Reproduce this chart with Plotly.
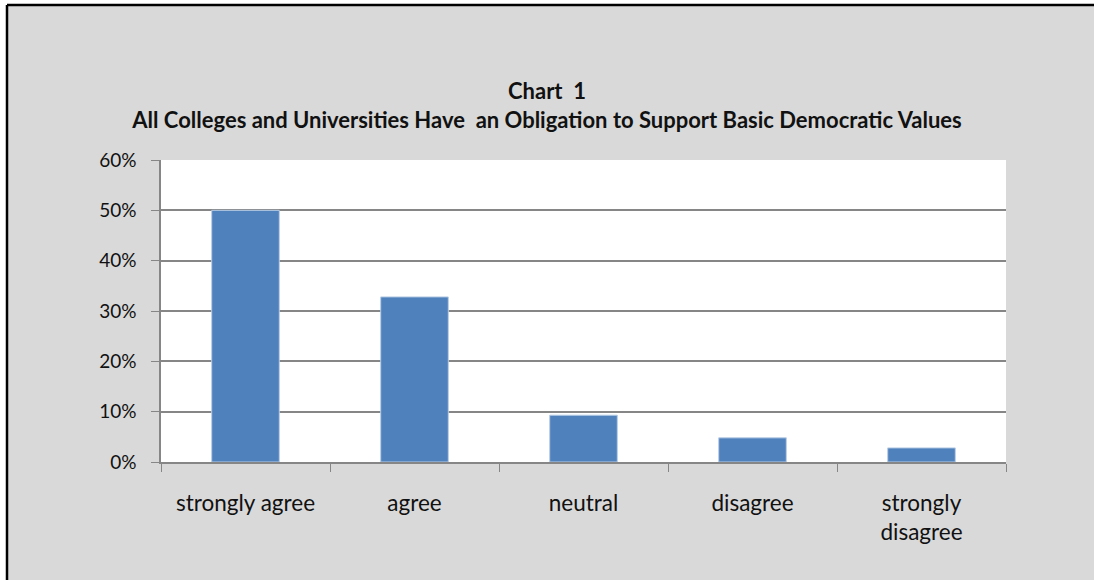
import plotly.graph_objects as go

categories = ["strongly agree", "agree", "neutral", "disagree", "strongly<br>disagree"]
shares = [0.50, 0.328, 0.093, 0.048, 0.028]

W, H = 1094, 580
L, R, T, B = 161, 88, 160, 118
pw, ph = W - L - R, H - T - B

fig = go.Figure(
    go.Bar(
        x=categories,
        y=shares,
        marker=dict(color="#4f81bd", line=dict(color="#b9cde5", width=1)),
    )
)

# outer frame: grey chart area with black left/top edge, white margin outside
bx0 = (7 - L) / pw
by1 = 1 + (T - 5) / ph
fig.add_shape(type="rect", xref="paper", yref="paper", x0=(0 - L) / pw, x1=bx0,
              y0=-2, y1=2, fillcolor="white", line_width=0, layer="below")
fig.add_shape(type="rect", xref="paper", yref="paper", x0=-2, x1=3,
              y0=by1, y1=3, fillcolor="white", line_width=0, layer="below")
fig.add_shape(type="line", xref="paper", yref="paper", x0=bx0, x1=bx0,
              y0=-2, y1=by1, line=dict(color="black", width=2.5))
fig.add_shape(type="line", xref="paper", yref="paper", x0=bx0, x1=3,
              y0=by1, y1=by1, line=dict(color="black", width=2.5))

fig.update_layout(
    width=W,
    height=H,
    margin=dict(l=L, r=R, t=T, b=B),
    paper_bgcolor="#d9d9d9",
    plot_bgcolor="white",
    font=dict(family="Lato", size=19, color="#111111"),
    showlegend=False,
    title=dict(
        text="<b>Chart  1</b><br><b>All Colleges and Universities Have  an Obligation to Support Basic Democratic Values</b>",
        x=0.5,
        xanchor="center",
        y=1 - 99 / H,
        yanchor="top",
        font=dict(size=22, color="#111111"),
    ),
    bargap=0.6,
    xaxis=dict(
        showline=True,
        linecolor="#868686",
        linewidth=1.5,
        ticks="outside",
        tickson="boundaries",
        ticklen=8,
        tickcolor="#868686",
        ticklabelstandoff=20,
        tickfont=dict(size=22.5),
        showgrid=False,
    ),
    yaxis=dict(
        range=[0, 0.6],
        dtick=0.1,
        tickformat=".0%",
        showline=True,
        linecolor="#868686",
        linewidth=1.5,
        ticks="outside",
        ticklen=8,
        tickcolor="#868686",
        ticklabelstandoff=11,
        showgrid=True,
        gridcolor="#868686",
        gridwidth=1.5,
        zeroline=False,
    ),
)

fig.write_html("out.html", config={"displayModeBar": False},
               post_script="document.body.style.margin='0';")
